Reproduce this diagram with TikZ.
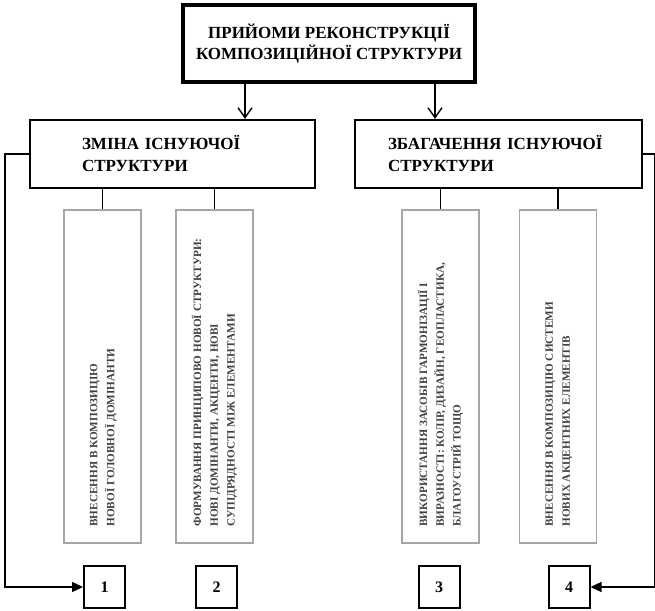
\documentclass[tikz,border=0pt]{standalone}
\usepackage{fontspec}
\setmainfont{Liberation Serif}
\usepackage{graphicx}
\usetikzlibrary{positioning, arrows.meta}

% rotated text, read from bottom to top
\newcommand{\vlines}[1]{\rotatebox{90}{\makebox[300pt][l]{\renewcommand{\arraystretch}{1.2}\begin{tabular}{@{}l@{}}#1\end{tabular}}}}

\begin{document}
\begin{tikzpicture}[x=1pt, y=-1pt,%
        mainbox/.style={rectangle, draw, line width=3.4pt, minimum width=292pt, minimum height=77pt, align=center, font=\fontsize{17}{21}\selectfont\bfseries},
        groupbox/.style={rectangle, draw, line width=2.2pt, minimum height=68pt, align=left, font=\fontsize{17}{22}\selectfont\bfseries},
        itembox/.style={rectangle, draw=gray!70, line width=1.3pt, minimum width=77pt, minimum height=333pt, inner sep=0pt, text=black!75, font=\fontsize{11.2}{14}\selectfont\bfseries},
        numbox/.style={rectangle, draw, line width=2pt, minimum width=41pt, minimum height=42pt, font=\fontsize{16}{18}\selectfont\bfseries},
        arrow/.style={-{Straight Barb[length=10pt, width=14pt]}, line width=1.4pt},
        link/.style={line width=1.4pt},
        feed/.style={-{Triangle[length=11pt, width=10pt]}, line width=1.4pt}%
    ]
        \useasboundingbox (0,0) rectangle (655,610);

        \node[mainbox] (recon) at (329, 43.5) {ПРИЙОМИ РЕКОНСТРУКЦІЇ\\КОМПОЗИЦІЙНОЇ СТРУКТУРИ};

        \node[groupbox, minimum width=285pt, text width=181pt] (chg) at (172.5, 154) {ЗМІНА ІСНУЮЧОЇ\\СТРУКТУРИ};
        \node[groupbox, minimum width=287pt, text width=221pt] (enr) at (498.5, 154) {ЗБАГАЧЕННЯ ІСНУЮЧОЇ\\СТРУКТУРИ};

        \node[itembox] (v1) at (102.5, 376.5) {\vlines{ВНЕСЕННЯ В КОМПОЗИЦІЮ\\НОВОЇ ГОЛОВНОЇ ДОМІНАНТИ}};
        \node[itembox] (v2) at (214.5, 376.5) {\vlines{ФОРМУВАННЯ ПРИНЦИПОВО НОВОЇ СТРУКТУРИ:\\НОВІ ДОМІНАНТИ, АКЦЕНТИ, НОВІ\\СУПІДРЯДНОСТІ МІЖ ЕЛЕМЕНТАМИ}};
        \node[itembox] (v3) at (440.5, 376.5) {\vlines{ВИКОРИСТАННЯ ЗАСОБІВ ГАРМОНІЗАЦІЇ І\\ВИРАЗНОСТІ: КОЛІР, ДИЗАЙН, ГЕОПЛАСТИКА,\\БЛАГОУСТРІЙ ТОЩО}};
        \node[itembox] (v4) at (558, 376.5) {\vlines{ВНЕСЕННЯ В КОМПОЗИЦІЮ СИСТЕМИ\\НОВИХ АКЦЕНТНИХ ЕЛЕМЕНТІВ}};

        \node[numbox] (n1) at (104.5, 587) {1};
        \node[numbox] (n2) at (216.5, 587) {2};
        \node[numbox] (n3) at (439, 587) {3};
        \node[numbox] (n4) at (569, 587) {4};

        \draw[arrow] ([xshift=-84pt]recon.south) -- ([xshift=-84pt]recon.south |- chg.north);
        \draw[arrow] ([xshift=106pt]recon.south) -- ([xshift=106pt]recon.south |- enr.north);

        \draw[link] (chg.south -| v1) -- (v1.north);
        \draw[link] (chg.south -| v2) -- (v2.north);
        \draw[link] (enr.south -| v3) -- (v3.north);
        \draw[link] (enr.south -| v4) -- (v4.north);

        \draw[feed] (chg.west) -- ++(-24,0) |- (n1.west);
        \draw[feed] (enr.east) -- ++(12,0) |- (n4.east);
    \end{tikzpicture}
\end{document}
